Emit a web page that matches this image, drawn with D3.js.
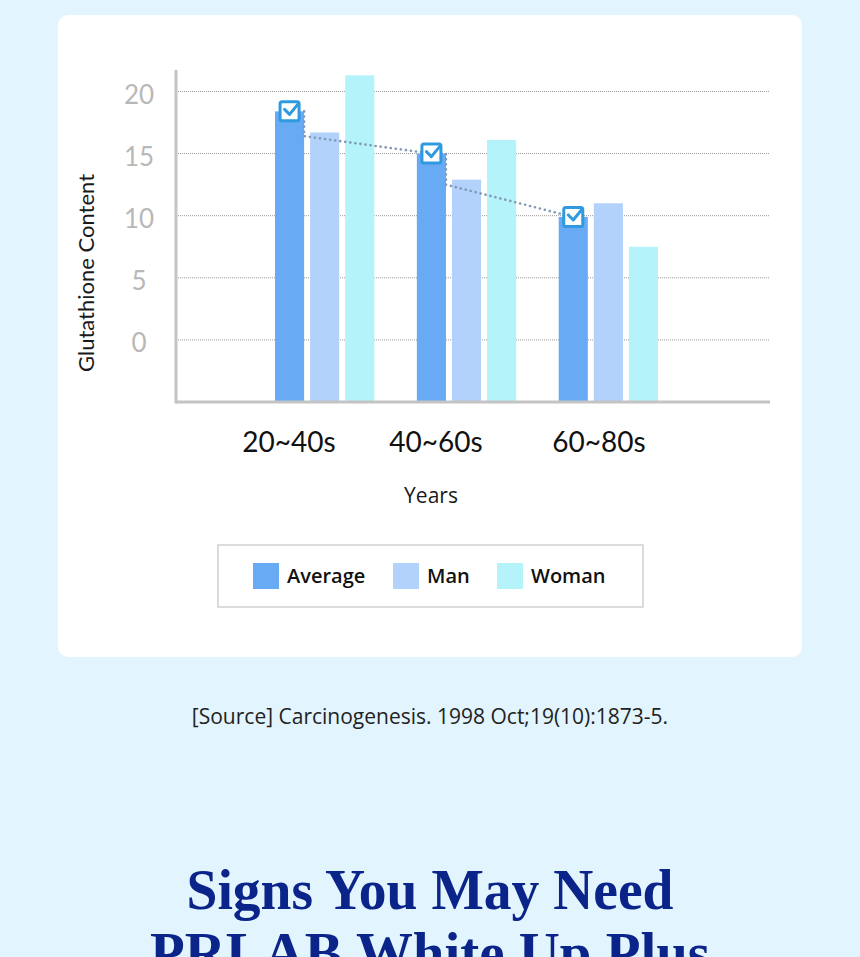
<!DOCTYPE html>
<html>
<head>
<meta charset="utf-8">
<script src="https://cdn.jsdelivr.net/npm/d3@7"></script>
<style>
  html, body { margin: 0; padding: 0; background: #e2f4fd; overflow: hidden; }
  svg { display: block; }
</style>
</head>
<body>
<svg id="chart" width="860" height="957"></svg>
<script>
// ---- data ----
const categories = ["20~40s", "40~60s", "60~80s"];
const seriesNames = ["Average", "Man", "Woman"];
const averageValues = [18.4, 15.0, 9.9];
const manValues = [16.7, 12.9, 11.0];
const womanValues = [21.3, 16.1, 7.5];
const trendDropValues = [16.4, 12.5]; // where the dotted trend line turns toward the next average
const yTicks = [0, 5, 10, 15, 20];
const seriesColors = ["#68aaf4", "#b3d2fb", "#b4f3fa"];
const xTitle = "Years";
const yTitle = "Glutathione Content";
const sourceText = "[Source] Carcinogenesis. 1998 Oct;19(10):1873-5.";
const headingLines = ["Signs You May Need", "PRLAB White Up Plus"];

const seriesValues = [averageValues, manValues, womanValues];
const table = categories.map((c, i) => ({
  cat: c,
  vals: seriesNames.map((s, j) => ({ series: s, value: seriesValues[j][i], color: seriesColors[j] }))
}));

const svg = d3.select("#chart");
const FONT = "'Open Sans', 'Noto Sans', sans-serif";

// card
svg.append("rect").attr("x", 58).attr("y", 15).attr("width", 744).attr("height", 642)
  .attr("rx", 10).attr("fill", "#ffffff");

// scales
const y = d3.scaleLinear().domain([-5, 20]).range([402, 91.5]);
const x0 = d3.scaleBand().domain(categories).range([275, 658]).paddingInner(0.3).paddingOuter(0);
const x1 = d3.scaleBand().domain(seriesNames).range([0, x0.bandwidth()]).paddingInner(0.17).paddingOuter(0);
const xLabel = d3.scaleOrdinal().domain(categories).range([289, 436, 599]);

const axisLeft = 176, axisRight = 770, axisTop = 70;

// gridlines
svg.append("g").selectAll("line").data(yTicks).join("line")
  .attr("x1", axisLeft + 2).attr("x2", axisRight)
  .attr("y1", d => y(d)).attr("y2", d => y(d))
  .attr("stroke", "#9a9a9a").attr("stroke-width", 1).attr("stroke-dasharray", "1 1");

// y tick labels
svg.append("g").selectAll("text").data(yTicks).join("text")
  .attr("x", 139).attr("y", d => y(d) + 2)
  .attr("text-anchor", "middle").attr("dominant-baseline", "central")
  .attr("font-family", "Lato, 'Open Sans', sans-serif").attr("font-size", 26)
  .attr("fill", "#b8b8b8").text(d => d);

// bars
const groups = svg.append("g").selectAll("g").data(table).join("g")
  .attr("transform", d => `translate(${x0(d.cat)},0)`);
groups.selectAll("rect").data(d => d.vals).join("rect")
  .attr("x", d => x1(d.series)).attr("width", x1.bandwidth())
  .attr("y", d => y(d.value)).attr("height", d => y(-5) - y(d.value))
  .attr("fill", d => d.color);

// axes lines
svg.append("line").attr("x1", axisLeft).attr("x2", axisLeft).attr("y1", axisTop).attr("y2", y(-5) + 1.5)
  .attr("stroke", "#c4c4c4").attr("stroke-width", 3);
svg.append("line").attr("x1", axisLeft).attr("x2", axisRight).attr("y1", y(-5)).attr("y2", y(-5))
  .attr("stroke", "#c4c4c4").attr("stroke-width", 3);

// dotted trend line
const avgCenter = i => x0(categories[i]) + x1("Average") + x1.bandwidth() / 2;
const avgRight = i => x0(categories[i]) + x1("Average") + x1.bandwidth();
const trendPts = [];
for (let i = 0; i < categories.length - 1; i++) {
  trendPts.push([avgRight(i), y(averageValues[i])]);
  trendPts.push([avgRight(i), y(trendDropValues[i])]);
  trendPts.push([avgCenter(i + 1), y(averageValues[i + 1])]);
}
svg.append("path").attr("d", d3.line()(trendPts))
  .attr("fill", "none").attr("stroke", "#8199b4").attr("stroke-width", 2.6)
  .attr("stroke-linecap", "round").attr("stroke-dasharray", "0.1 5");

// markers
const mk = svg.append("g").selectAll("g").data(averageValues).join("g")
  .attr("transform", (d, i) => `translate(${avgCenter(i)},${y(d)})`);
mk.append("rect").attr("x", -9.5).attr("y", -9.5).attr("width", 19).attr("height", 19).attr("rx", 2)
  .attr("fill", "#ffffff").attr("stroke", "#2f9ae0").attr("stroke-width", 3);
mk.append("path").attr("d", "M-5,-2 L0,3 L9,-8")
  .attr("fill", "none").attr("stroke", "#2f9ae0").attr("stroke-width", 3)
  .attr("stroke-linecap", "round").attr("stroke-linejoin", "round");

// x labels
svg.append("g").selectAll("text").data(categories).join("text")
  .attr("x", d => xLabel(d)).attr("y", 452)
  .attr("text-anchor", "middle").attr("font-family", "Lato, 'Open Sans', sans-serif").attr("font-size", 28)
  .attr("fill", "#111").text(d => d);

// axis titles
svg.append("text").attr("x", 431).attr("y", 503).attr("text-anchor", "middle")
  .attr("font-family", FONT).attr("font-size", 21).attr("fill", "#1a1a1a").text(xTitle);
svg.append("text").attr("transform", "translate(94,273) rotate(-90)").attr("text-anchor", "middle")
  .attr("font-family", "Lato, 'Open Sans', sans-serif").attr("font-size", 22).attr("fill", "#1a1a1a").text(yTitle);

// legend
svg.append("rect").attr("x", 218).attr("y", 545).attr("width", 425).attr("height", 62)
  .attr("fill", "#fff").attr("stroke", "#cfcfcf").attr("stroke-width", 1.5);
const legendX = d3.scaleOrdinal().domain(seriesNames).range([253, 393, 497]);
const lg = svg.append("g").selectAll("g").data(seriesNames).join("g")
  .attr("transform", d => `translate(${legendX(d)},563)`);
lg.append("rect").attr("width", 26).attr("height", 26).attr("fill", (d, i) => seriesColors[i]);
lg.append("text").attr("x", 34).attr("y", 20)
  .attr("font-family", FONT).attr("font-weight", 600).attr("font-size", 20)
  .attr("fill", "#111").text(d => d);

// source
svg.append("text").attr("x", 430).attr("y", 724).attr("text-anchor", "middle")
  .attr("font-family", FONT).attr("font-size", 21).attr("fill", "#222").text(sourceText);

// heading
svg.append("text").attr("x", 430).attr("y", 909).attr("text-anchor", "middle")
  .attr("font-family", "'Liberation Serif', 'DejaVu Serif', serif").attr("font-weight", 700)
  .attr("font-size", 58).attr("fill", "#0b2489")
  .attr("textLength", 487).attr("lengthAdjust", "spacingAndGlyphs").text(headingLines[0]);
svg.append("text").attr("x", 430).attr("y", 972).attr("text-anchor", "middle")
  .attr("font-family", "'Liberation Serif', 'DejaVu Serif', serif").attr("font-weight", 700)
  .attr("font-size", 58).attr("fill", "#0b2489")
  .attr("textLength", 560).attr("lengthAdjust", "spacingAndGlyphs").text(headingLines[1]);
</script>
</body>
</html>
